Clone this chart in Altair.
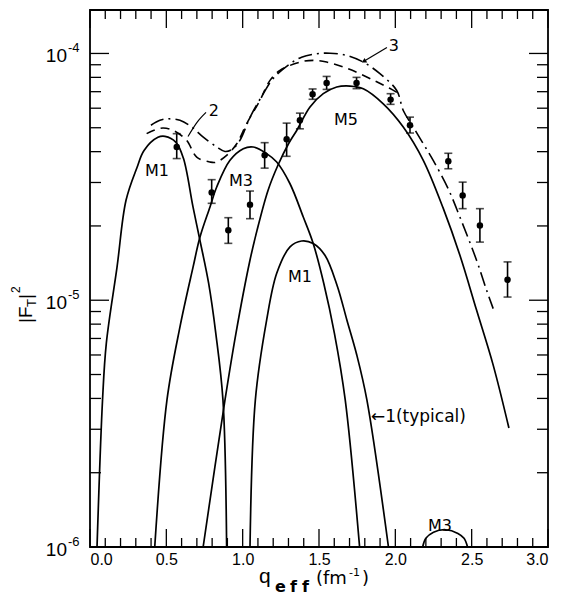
import altair as alt
import pandas as pd

W, H = 458, 537
YMIN, YMAX = 1e-6, 1.5e-4
FONT = "Liberation Sans"
FONT2 = "DejaVu Sans"

# ---------------- experimental points (q, |F_T|^2, error low/high) ----------------
pt_q = [0.568, 0.797, 0.906, 1.048, 1.144, 1.288, 1.375, 1.458, 1.550, 1.746,
        1.969, 2.096, 2.347, 2.441, 2.554, 2.735]
pt_v = [4.18e-5, 2.73e-5, 1.92e-5, 2.44e-5, 3.87e-5, 4.49e-5, 5.36e-5, 6.83e-5,
        7.59e-5, 7.59e-5, 6.50e-5, 5.12e-5, 3.66e-5, 2.66e-5, 2.01e-5, 1.21e-5]
pt_lo = [3.75e-5, 2.47e-5, 1.70e-5, 2.14e-5, 3.43e-5, 3.83e-5, 4.95e-5, 6.52e-5,
         7.15e-5, 7.20e-5, 6.22e-5, 4.76e-5, 3.41e-5, 2.35e-5, 1.72e-5, 1.03e-5]
pt_hi = [4.73e-5, 3.08e-5, 2.16e-5, 2.77e-5, 4.35e-5, 5.22e-5, 5.73e-5, 7.18e-5,
         8.07e-5, 8.00e-5, 6.87e-5, 5.52e-5, 3.94e-5, 3.01e-5, 2.35e-5, 1.43e-5]

# ---------------- theory curves: q and log10(|F_T|^2) ----------------
m1a_q = [0.046, 0.082, 0.107, 0.177, 0.236, 0.308, 0.354, 0.445, 0.491, 0.563,
         0.612, 0.675, 0.720, 0.777, 0.824, 0.871, 0.895]
m1a_l = [-6.0, -5.405, -5.174, -4.866, -4.595, -4.462, -4.393, -4.340, -4.336, -4.360,
         -4.425, -4.623, -4.757, -4.931, -5.134, -5.405, -6.0]

m3a_q = [0.424, 0.504, 0.589, 0.675, 0.720, 0.786, 0.830, 0.917, 1.004, 1.069,
         1.157, 1.223, 1.310, 1.397, 1.462, 1.531, 1.601, 1.672, 1.766]
m3a_l = [-6.0, -5.405, -5.109, -4.866, -4.745, -4.622, -4.541, -4.433, -4.386, -4.379,
         -4.406, -4.440, -4.528, -4.663, -4.770, -4.931, -5.134, -5.405, -6.0]

m1b_q = [1.048, 1.083, 1.157, 1.223, 1.310, 1.386, 1.462, 1.539, 1.618, 1.683, 1.748,
         1.814, 1.955]
m1b_l = [-6.0, -5.405, -5.081, -4.891, -4.784, -4.760, -4.770, -4.818, -4.939, -5.081,
         -5.223, -5.405, -6.0]

m5_q = [0.741, 0.884, 0.956, 1.045, 1.094, 1.166, 1.231, 1.303, 1.354, 1.441, 1.528,
        1.616, 1.703, 1.790, 1.921, 2.052, 2.183, 2.314, 2.423, 2.532, 2.641, 2.744]
m5_l = [-6.0, -5.405, -5.134, -4.846, -4.717, -4.555, -4.453, -4.363, -4.312, -4.217,
        -4.163, -4.136, -4.132, -4.143, -4.204, -4.298, -4.433, -4.628, -4.818, -5.040,
        -5.263, -5.518]

m3b_q = [2.179, 2.200, 2.250, 2.330, 2.410, 2.450, 2.473]
m3b_l = [-6.0, -5.965, -5.940, -5.930, -5.945, -5.965, -6.0]

c2_q = [0.371, 0.415, 0.478, 0.546, 0.633, 0.699, 0.786, 0.825, 0.895, 0.961, 1.026,
        1.113, 1.179, 1.244, 1.375, 1.462, 1.550, 1.659, 1.768, 1.878, 1.960, 2.010]
c2_l = [-4.325, -4.312, -4.302, -4.312, -4.352, -4.420, -4.440, -4.441, -4.413, -4.366,
        -4.285, -4.190, -4.109, -4.069, -4.035, -4.028, -4.035, -4.055, -4.082, -4.115,
        -4.140, -4.158]

c3_q = [0.399, 0.458, 0.504, 0.589, 0.666, 0.742, 0.830, 0.884, 0.930, 0.982, 1.048,
        1.135, 1.200, 1.310, 1.386, 1.485, 1.572, 1.681, 1.790, 1.899, 2.009, 2.052,
        2.117, 2.183, 2.248, 2.346, 2.423, 2.532, 2.598, 2.641]
c3_l = [-4.291, -4.271, -4.265, -4.271, -4.298, -4.339, -4.379, -4.397, -4.389, -4.352,
        -4.259, -4.163, -4.101, -4.042, -4.015, -4.001, -3.999, -4.008, -4.035, -4.082,
        -4.150, -4.231, -4.298, -4.366, -4.433, -4.548, -4.663, -4.838, -4.960, -5.034]

# ---------------- annotations ----------------
lab_text = ["M1", "M3", "M5", "M1", "M3", "2", "3"]
lab_q = [0.439, 0.989, 1.676, 1.375, 2.292, 0.812, 1.991]
lab_v = [3.33e-5, 3.03e-5, 5.36e-5, 1.24e-5, 1.22e-6, 5.87e-5, 1.07e-4]
typ_text = ["←1(typical)"]
typ_q = [1.840]
typ_v = [3.36e-6]
lead2_q = [0.760, 0.701, 0.642]
lead2_v = [5.77e-5, 5.26e-5, 4.61e-5]
lead3_q = [1.945, 1.794]
lead3_v = [1.057e-4, 9.29e-5]

# ---------------- axis ticks ----------------
x_major = [0.0, 0.5, 1.0, 1.5, 2.0, 2.5, 3.0]
x_minor = [0.1, 0.2, 0.3, 0.4, 0.6, 0.7, 0.8, 0.9, 1.1, 1.2, 1.3, 1.4, 1.6, 1.7, 1.8,
           1.9, 2.1, 2.2, 2.3, 2.4, 2.6, 2.7, 2.8, 2.9]
y_major = [1e-6, 1e-5, 1e-4]
y_minor = [2e-6, 3e-6, 4e-6, 5e-6, 6e-6, 7e-6, 8e-6, 9e-6,
           2e-5, 3e-5, 4e-5, 5e-5, 6e-5, 7e-5, 8e-5, 9e-5]
y_exp = ["-6", "-5", "-4"]

# ---------------- build tables ----------------
def curve_df(name, qs, ls):
    return pd.DataFrame({"q": qs, "v": [10 ** l for l in ls], "curve": name,
                         "i": list(range(len(qs)))})

solid = pd.concat([curve_df("M1a", m1a_q, m1a_l), curve_df("M3a", m3a_q, m3a_l),
                   curve_df("M1b", m1b_q, m1b_l), curve_df("M5", m5_q, m5_l),
                   curve_df("M3b", m3b_q, m3b_l)])
dash2 = curve_df("c2", c2_q, c2_l)
dash3 = curve_df("c3", c3_q, c3_l)
pts = pd.DataFrame({"q": pt_q, "v": pt_v, "lo": pt_lo, "hi": pt_hi})

xs = alt.Scale(domain=[0, 3], nice=False, zero=False)
ys = alt.Scale(type="log", domain=[YMIN, YMAX], nice=False)
xaxis = alt.Axis(values=x_major, format=".1f", ticks=False, tickSize=0, domain=False,
                 grid=False, labelFontSize=16, labelPadding=4, labelFont=FONT,
                 labelColor="black", title=None)


def X(f):
    return alt.X(f, scale=xs, axis=xaxis)


def Y(f):
    return alt.Y(f, scale=ys, axis=None)


layers = []

# ticks
def xticks(vals, ln):
    d = pd.DataFrame({"t": vals})
    b = alt.Chart(d).mark_rule(color="black", strokeWidth=1.3).encode(
        x=X("t:Q"), y=alt.value(H), y2=alt.value(H - ln))
    t = alt.Chart(d).mark_rule(color="black", strokeWidth=1.3).encode(
        x=X("t:Q"), y=alt.value(0), y2=alt.value(ln))
    return [b, t]


def yticks(vals, ln):
    d = pd.DataFrame({"t": vals})
    l = alt.Chart(d).mark_rule(color="black", strokeWidth=1.3).encode(
        y=Y("t:Q"), x=alt.value(0), x2=alt.value(ln))
    r = alt.Chart(d).mark_rule(color="black", strokeWidth=1.3).encode(
        y=Y("t:Q"), x=alt.value(W), x2=alt.value(W - ln))
    return [l, r]


layers += xticks(x_major, 18) + xticks(x_minor, 9) + yticks(y_major, 19) + yticks(y_minor, 11)

# curves
INTERP = "catmull-rom"
layers.append(alt.Chart(solid).mark_line(color="black", strokeWidth=1.7, clip=True,
                                          interpolate=INTERP).encode(
    x=X("q:Q"), y=Y("v:Q"), detail="curve:N", order="i:Q"))
layers.append(alt.Chart(dash2).mark_line(color="black", strokeWidth=1.6, clip=True,
                                          interpolate=INTERP, strokeDash=[9, 6]).encode(
    x=X("q:Q"), y=Y("v:Q"), order="i:Q"))
layers.append(alt.Chart(dash3).mark_line(color="black", strokeWidth=1.6, clip=True,
                                          interpolate=INTERP,
                                          strokeDash=[14, 5, 2, 5]).encode(
    x=X("q:Q"), y=Y("v:Q"), order="i:Q"))

# error bars and points
layers.append(alt.Chart(pts).mark_rule(color="black", strokeWidth=1.6).encode(
    x=X("q:Q"), y=Y("lo:Q"), y2="hi:Q"))
layers.append(alt.Chart(pts).mark_tick(color="black", orient="horizontal", size=8,
                                        thickness=1.6).encode(x=X("q:Q"), y=Y("lo:Q")))
layers.append(alt.Chart(pts).mark_tick(color="black", orient="horizontal", size=8,
                                        thickness=1.6).encode(x=X("q:Q"), y=Y("hi:Q")))
layers.append(alt.Chart(pts).mark_circle(color="black", size=42, opacity=1).encode(
    x=X("q:Q"), y=Y("v:Q")))

# annotation lines
layers.append(alt.Chart(pd.DataFrame({"q": lead2_q, "v": lead2_v, "i": [0, 1, 2]})).mark_line(
    color="black", strokeWidth=1.2, interpolate="monotone").encode(
    x=X("q:Q"), y=Y("v:Q"), order="i:Q"))
layers.append(alt.Chart(pd.DataFrame({"q": lead3_q, "v": lead3_v, "i": [0, 1]})).mark_line(
    color="black", strokeWidth=1.2).encode(x=X("q:Q"), y=Y("v:Q"), order="i:Q"))
layers.append(alt.Chart(pd.DataFrame({"q": lead3_q[1:], "v": lead3_v[1:]})).mark_point(
    shape="triangle-up", filled=True, color="black", size=28, angle=239, opacity=1).encode(
    x=X("q:Q"), y=Y("v:Q")))

# curve labels
layers.append(alt.Chart(pd.DataFrame({"q": lab_q, "v": lab_v, "t": lab_text})).mark_text(
    font=FONT2, fontSize=16, color="black", align="center", baseline="middle").encode(
    x=X("q:Q"), y=Y("v:Q"), text="t:N"))
layers.append(alt.Chart(pd.DataFrame({"q": typ_q, "v": typ_v, "t": typ_text})).mark_text(
    font=FONT2, fontSize=17, color="black", align="left", baseline="middle").encode(
    x=X("q:Q"), y=Y("v:Q"), text="t:N"))

# y tick labels  10^-n
ylab = pd.DataFrame({"v": y_major, "e": y_exp, "b": ["10"] * 3})
layers.append(alt.Chart(ylab).mark_text(font=FONT, fontSize=19, color="black", align="right",
                                        baseline="middle", dy=3).encode(
    y=Y("v:Q"), x=alt.value(-23), text="b:N"))
layers.append(alt.Chart(ylab).mark_text(font=FONT, fontSize=13, color="black", align="left",
                                        baseline="middle", dy=-5).encode(
    y=Y("v:Q"), x=alt.value(-22), text="e:N"))

# x axis title  q_eff (fm^-1)
def txt(s, x, y, size, weight="normal", angle=0, align="left", font=FONT):
    return alt.Chart(pd.DataFrame({"t": [s]})).mark_text(
        font=font, fontSize=size, fontWeight=weight, color="black", align=align,
        baseline="alphabetic", angle=angle).encode(x=alt.value(x), y=alt.value(y), text="t:N")

layers += [txt("q", 169, 573, 21),
           txt("e", 185, 582, 16, "bold", font=FONT2),
           txt("f", 200, 582, 16, "bold", font=FONT2),
           txt("f", 212, 582, 16, "bold", font=FONT2),
           txt("(fm", 226, 574, 18, font=FONT2), txt("-1", 259, 566, 11, font=FONT2),
           txt(")", 272, 574, 18, font=FONT2)]

# y axis title |F_T|^2 (rotated)
layers += [txt("|F", -58, 313, 19, angle=270), txt("T", -54, 297, 13, angle=270),
           txt("|", -58, 289, 19, angle=270), txt("2", -70, 283, 12, angle=270)]

chart = alt.layer(*layers).properties(
    width=W, height=H,
    autosize=alt.AutoSizeParams(type="none"),
    padding={"left": 82, "top": 2, "right": 5, "bottom": 48},
    background="white",
).configure_view(stroke="black", strokeWidth=1.8)

chart.save("out.html", embed_options={"renderer": "svg", "actions": False})
